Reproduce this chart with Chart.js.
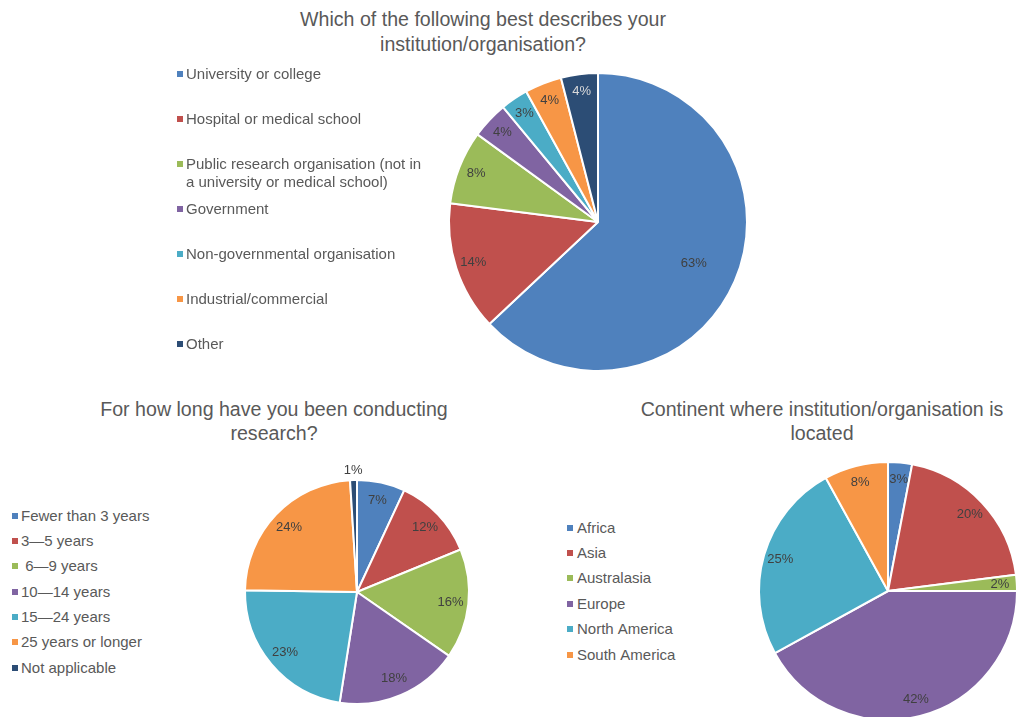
<!DOCTYPE html>
<html>
<head>
<meta charset="utf-8">
<script src="https://cdn.jsdelivr.net/npm/chart.js@4/dist/chart.umd.min.js"></script>
<style>
  html, body { margin:0; padding:0; background:#fff; }
  #wrap { position:relative; width:1019px; height:717px; overflow:hidden; background:#fff;
          font-family:"Liberation Sans", Arial, sans-serif; color:#595959; }
  .title { position:absolute; text-align:center; font-size:19.6px; line-height:25px; white-space:nowrap; transform:translateX(-50%); }
  .leg { position:absolute; font-size:15px; line-height:18px; white-space:nowrap; }
  .sq { position:absolute; width:6px; height:6px; }
  canvas { position:absolute; }
</style>
</head>
<body>
<div id="wrap">
  <div class="title" style="left:483px; top:7px;">Which of the following best describes your<br>institution/organisation?</div>
  <div class="title" style="left:274px; top:397px; line-height:24px;">For how long have you been conducting<br>research?</div>
  <div class="title" style="left:822px; top:397px; line-height:24px;">Continent where institution/organisation is<br>located</div>
  <canvas id="c1" width="360" height="360" style="left:418px; top:42px;"></canvas>
  <canvas id="c2" width="300" height="300" style="left:207px; top:442px;"></canvas>
  <canvas id="c3" width="320" height="320" style="left:728px; top:431px;"></canvas>
</div>
<script>
const instCategories = [
  "University or college",
  "Hospital or medical school",
  "Public research organisation (not in\na university or medical school)",
  "Government",
  "Non-governmental organisation",
  "Industrial/commercial",
  "Other"
];
const instValues = [63, 14, 8, 4, 3, 4, 4];

const yearsCategories = [
  "Fewer than 3 years",
  "3\u20145 years",
  " 6\u20149 years",
  "10\u201414 years",
  "15\u201424 years",
  "25 years or longer",
  "Not applicable"
];
const yearsValues = [7, 12, 16, 18, 23, 24, 1];

const continentCategories = [
  "Africa",
  "Asia",
  "Australasia",
  "Europe",
  "North America",
  "South America"
];
const continentValues = [3, 20, 2, 42, 25, 8];

const palette = ["#4F81BD", "#C0504D", "#9BBB59", "#8064A2", "#4BACC6", "#F79646", "#2C4D75"];

function buildLegend(categories, left, textLeft, centers) {
  const wrap = document.getElementById('wrap');
  categories.forEach((cat, i) => {
    const sq = document.createElement('div');
    sq.className = 'sq';
    sq.style.left = left + 'px';
    sq.style.top = (centers[i] - 3) + 'px';
    sq.style.background = palette[i];
    wrap.appendChild(sq);
    const t = document.createElement('div');
    t.className = 'leg';
    t.style.left = textLeft + 'px';
    t.style.top = (centers[i] - 9) + 'px';
    t.innerHTML = cat.replace(/ /g, '&nbsp;').replace(/\n/g, '<br>');
    wrap.appendChild(t);
  });
}
buildLegend(instCategories, 177, 186, [74, 119, 164, 209, 254, 299, 344]);
buildLegend(yearsCategories, 12, 21, [516, 541, 566, 592, 617, 642, 668]);
buildLegend(continentCategories, 567, 577, [528, 553, 578, 604, 629, 655]);

const pctLabels = {
  id: 'pctLabels',
  afterDatasetsDraw(chart, args, opts) {
    const ctx = chart.ctx;
    const meta = chart.getDatasetMeta(0);
    const data = chart.data.datasets[0].data;
    const total = data.reduce((a, b) => a + b, 0);
    ctx.save();
    ctx.font = '13px "Liberation Sans", Arial, sans-serif';
    ctx.textAlign = 'center';
    ctx.textBaseline = 'middle';
    meta.data.forEach((arc, i) => {
      const share = data[i] / total;
      const mid = (arc.startAngle + arc.endAngle) / 2;
      let f = opts.frac;
      if (share > 0.5) f = 0.7;
      const outside = share < 0.015;
      if (outside) f = 1.09;
      const r = arc.outerRadius * f;
      const x = arc.x + Math.cos(mid) * r;
      const y = arc.y + Math.sin(mid) * r;
      ctx.fillStyle = (!outside && i === 6) ? '#D9D9D9' : '#404040';
      ctx.fillText(data[i] + '%', x, y);
    });
    ctx.restore();
  }
};

function makePie(id, values, radius, frac) {
  return new Chart(document.getElementById(id), {
    type: 'pie',
    data: {
      labels: values.map((v, i) => i),
      datasets: [{
        data: values,
        backgroundColor: palette.slice(0, values.length),
        borderColor: '#ffffff',
        borderWidth: 2,
        radius: radius
      }]
    },
    options: {
      responsive: false,
      animation: false,
      layout: { padding: 0 },
      events: [],
      plugins: {
        legend: { display: false },
        title: { display: false },
        tooltip: { enabled: false },
        pctLabels: { frac: frac }
      }
    },
    plugins: [pctLabels]
  });
}

makePie('c1', instValues, 149, 0.88);
makePie('c2', yearsValues, 112, 0.84);
makePie('c3', continentValues, 129, 0.87);
</script>
</body>
</html>
